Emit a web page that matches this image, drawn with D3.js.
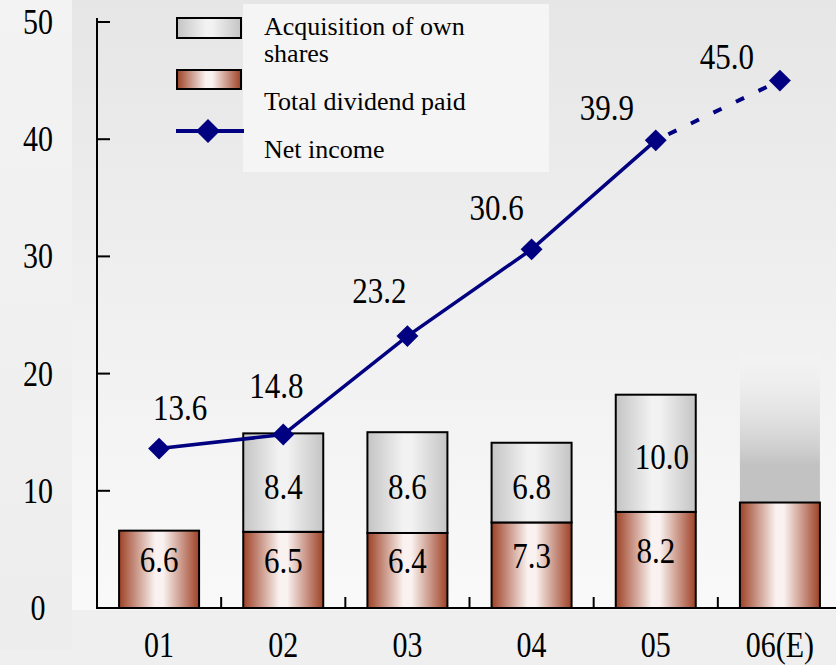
<!DOCTYPE html>
<html>
<head>
<meta charset="utf-8">
<script src="https://cdn.jsdelivr.net/npm/d3@7"></script>
<style>
  html, body { margin: 0; padding: 0; background: #f2f2f2; }
  svg { display: block; font-family: "Liberation Serif", "Times New Roman", serif; }
</style>
</head>
<body>
<script>
// Shareholder returns and net income by fiscal year
const years = ["01", "02", "03", "04", "05", "06(E)"];
const dividends = [6.6, 6.5, 6.4, 7.3, 8.2, 9.0];
const buybacks = [0, 8.4, 8.6, 6.8, 10.0, null];
const netIncome = [13.6, 14.8, 23.2, 30.6, 39.9, 45.0];
const yTicks = [0, 10, 20, 30, 40, 50];
const estimateTop = 21.6; // faded outline of possible 06 buyback

// label offsets for the net-income values (dx, dy from the marker)
const incomeLabelShift = [[21, -29], [-7, -37], [-28, -33], [-35, -29], [-49, -20], [-53, -12]];

const W = 836, H = 665;
const svg = d3.select("body").append("svg").attr("width", W).attr("height", H);
const defs = svg.append("defs");

function hGrad(id, edge, mid) {
  const g = defs.append("linearGradient").attr("id", id)
    .attr("x1", "0%").attr("x2", "100%").attr("y1", "0%").attr("y2", "0%");
  g.append("stop").attr("offset", "0%").attr("stop-color", edge);
  g.append("stop").attr("offset", "45%").attr("stop-color", mid);
  g.append("stop").attr("offset", "55%").attr("stop-color", mid);
  g.append("stop").attr("offset", "100%").attr("stop-color", edge);
}
hGrad("divGrad", "#9e4227", "#faf2f0");
hGrad("buyGrad", "#c4c4c4", "#f2f2f2");

const bg = defs.append("linearGradient").attr("id", "bgGrad")
  .attr("x1", "0").attr("x2", "0").attr("y1", "0").attr("y2", "1");
bg.append("stop").attr("offset", "0%").attr("stop-color", "#e6e6e6");
bg.append("stop").attr("offset", "90%").attr("stop-color", "#f9f9f9");
bg.append("stop").attr("offset", "100%").attr("stop-color", "#f9f9f9");

const side = defs.append("linearGradient").attr("id", "sideGrad")
  .attr("x1", "0").attr("x2", "0").attr("y1", "0").attr("y2", "1");
side.append("stop").attr("offset", "0%").attr("stop-color", "#f3f3f3");
side.append("stop").attr("offset", "100%").attr("stop-color", "#ededed");

const ghost = defs.append("linearGradient").attr("id", "ghostGrad")
  .attr("x1", "0").attr("x2", "0").attr("y1", "0").attr("y2", "1");
ghost.append("stop").attr("offset", "0%").attr("stop-color", "#f6f6f6").attr("stop-opacity", 0.3);
ghost.append("stop").attr("offset", "75%").attr("stop-color", "#c2c2c2");
ghost.append("stop").attr("offset", "100%").attr("stop-color", "#c2c2c2");

// backdrop
svg.append("rect").attr("width", W).attr("height", H).attr("fill", "url(#bgGrad)");
svg.append("rect").attr("x", 0).attr("y", 610).attr("width", W).attr("height", H - 610).attr("fill", "#efefef");
svg.append("rect").attr("x", 0).attr("y", 0).attr("width", 72).attr("height", 650).attr("fill", "url(#sideGrad)");

const x0 = 97, x1 = 842, yBase = 608, yTop = 22;
const x = d3.scalePoint().domain(years).range([x0, x1]).padding(0.5);
const y = d3.scaleLinear().domain([0, 50]).range([yBase, yTop]);
const barW = 80;

// text with the tall, narrow glyph proportions used throughout
function tallText(g, tx, ty, str, size, stretch) {
  return g.append("text")
    .attr("transform", `translate(${tx},${ty}) scale(1,${stretch})`)
    .attr("font-size", size).attr("text-anchor", "middle").text(str);
}

// estimated buyback outline for 06
svg.append("rect")
  .attr("x", x(years[5]) - barW / 2)
  .attr("y", y(estimateTop))
  .attr("width", barW)
  .attr("height", y(dividends[5]) - y(estimateTop))
  .attr("fill", "url(#ghostGrad)");

// dividend bars
svg.append("g").selectAll("rect").data(years).join("rect")
  .attr("x", d => x(d) - barW / 2)
  .attr("y", (d, i) => y(dividends[i]))
  .attr("width", barW)
  .attr("height", (d, i) => y(0) - y(dividends[i]))
  .attr("fill", "url(#divGrad)")
  .attr("stroke", "#000").attr("stroke-width", 2);

// buyback bars stacked on dividends
const buyIdx = years.map((d, i) => i).filter(i => buybacks[i]);
svg.append("g").selectAll("rect").data(buyIdx).join("rect")
  .attr("x", i => x(years[i]) - barW / 2)
  .attr("y", i => y(dividends[i] + buybacks[i]))
  .attr("width", barW)
  .attr("height", i => y(dividends[i]) - y(dividends[i] + buybacks[i]))
  .attr("fill", "url(#buyGrad)")
  .attr("stroke", "#000").attr("stroke-width", 2);

// bar value labels
const barLabels = svg.append("g").attr("fill", "#000");
years.forEach((d, i) => {
  if (i < 5) {
    const cy = (y(0) + y(dividends[i])) / 2 - 9;
    tallText(barLabels, x(d), cy + 12, dividends[i].toFixed(1), 31, 1.16);
  }
  if (buybacks[i]) {
    const cy = (y(dividends[i]) + y(dividends[i] + buybacks[i])) / 2 + 4;
    tallText(barLabels, x(d) + (buybacks[i] >= 10 ? 6 : 0), cy + 12, buybacks[i].toFixed(1), 31, 1.16);
  }
});

// axes
const axes = svg.append("g").attr("stroke", "#000").attr("stroke-width", 2).attr("fill", "none");
axes.append("line").attr("x1", x0).attr("x2", x0).attr("y1", y(50) - 4).attr("y2", yBase + 1);
axes.append("line").attr("x1", x0 - 1).attr("x2", W).attr("y1", yBase).attr("y2", yBase);
yTicks.slice(1).forEach(t => {
  axes.append("line").attr("x1", x0).attr("x2", x0 + 13).attr("y1", y(t)).attr("y2", y(t));
});
const step = x.step();
for (let k = 1; k < years.length; k++) {
  const xt = x0 + step * k;
  axes.append("line").attr("x1", xt).attr("x2", xt).attr("y1", yBase).attr("y2", yBase - 11);
}

const yLab = svg.append("g");
yTicks.forEach(t => tallText(yLab, 38, y(t) + 12, t, 30, 1.18));

const xLab = svg.append("g");
years.forEach(d => tallText(xLab, x(d), 657, d, 30, 1.2));

// net income line: actuals solid, estimate dashed
const pts = years.map((d, i) => [x(d), y(netIncome[i])]);
const line = d3.line();
svg.append("path").attr("d", line(pts.slice(0, 5)))
  .attr("fill", "none").attr("stroke", "#000080").attr("stroke-width", 3.5);
svg.append("path").attr("d", line(pts.slice(4)))
  .attr("fill", "none").attr("stroke", "#000080").attr("stroke-width", 4)
  .attr("stroke-dasharray", "9 16").attr("stroke-dashoffset", -14);

const diamond = d3.symbol().type(d3.symbolSquare).size(240);
svg.append("g").selectAll("path").data(pts).join("path")
  .attr("d", diamond())
  .attr("transform", p => `translate(${p[0]},${p[1]}) rotate(45)`)
  .attr("fill", "#000080");

const incLab = svg.append("g");
pts.forEach((p, i) => tallText(incLab, p[0] + incomeLabelShift[i][0], p[1] + incomeLabelShift[i][1],
  netIncome[i].toFixed(1), 31, 1.16));

// legend
const lg = svg.append("g");
lg.append("rect").attr("x", 243).attr("y", 4).attr("width", 306).attr("height", 168)
  .attr("fill", "#f7f7f7").attr("opacity", 0.85);
lg.append("rect").attr("x", 177).attr("y", 18).attr("width", 64).attr("height", 20)
  .attr("fill", "url(#buyGrad)").attr("stroke", "#000").attr("stroke-width", 2);
lg.append("rect").attr("x", 177).attr("y", 70).attr("width", 64).attr("height", 19)
  .attr("fill", "url(#divGrad)").attr("stroke", "#000").attr("stroke-width", 2);
lg.append("line").attr("x1", 176).attr("x2", 244).attr("y1", 131).attr("y2", 131)
  .attr("stroke", "#000080").attr("stroke-width", 4);
lg.append("path").attr("d", d3.symbol().type(d3.symbolSquare).size(290)())
  .attr("transform", "translate(208,131) rotate(45)").attr("fill", "#000080");

const lt = lg.append("g").attr("font-size", 26).attr("fill", "#000");
lt.append("text").attr("x", 264).attr("y", 35).text("Acquisition of own");
lt.append("text").attr("x", 264).attr("y", 62).text("shares");
lt.append("text").attr("x", 264).attr("y", 110).text("Total dividend paid");
lt.append("text").attr("x", 264).attr("y", 158).text("Net income");
</script>
</body>
</html>
